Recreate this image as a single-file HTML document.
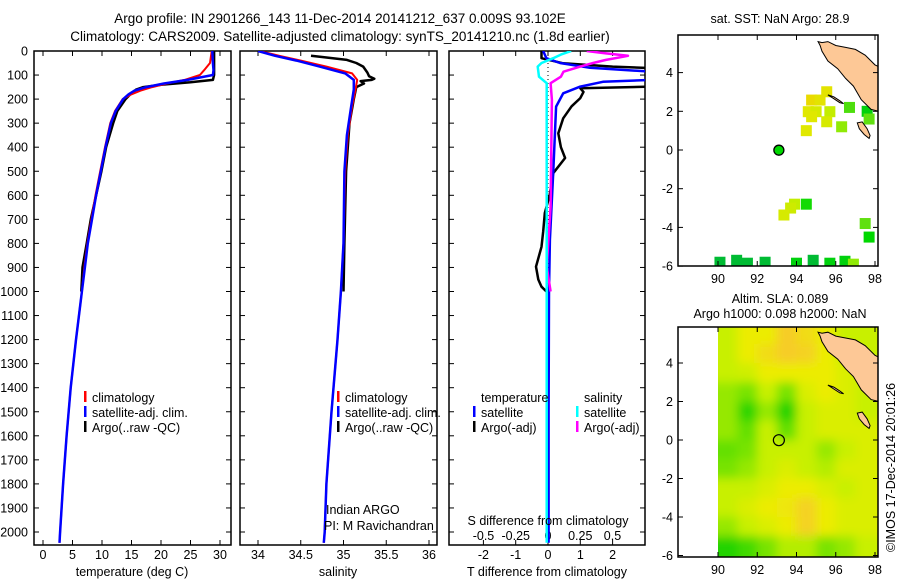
<!DOCTYPE html>
<html><head><meta charset="utf-8"><style>
html,body{margin:0;padding:0;background:#fff;}
svg{display:block;font-family:"Liberation Sans",sans-serif;}
text{font-size:12.5px;fill:#000;}
</style></head><body>
<svg id="fig" width="900" height="580" viewBox="0 0 900 580" xmlns="http://www.w3.org/2000/svg">
<defs>
<clipPath id="c1"><rect x="34" y="51" width="197" height="494"/></clipPath>
<clipPath id="c2"><rect x="240" y="51" width="197" height="494"/></clipPath>
<clipPath id="c3"><rect x="449" y="51" width="196" height="494"/></clipPath>
<clipPath id="cm1"><rect x="678" y="35" width="200" height="231"/></clipPath>
<clipPath id="cm2"><rect x="718" y="327" width="160" height="230"/></clipPath>
<filter id="blur" x="-10%" y="-10%" width="120%" height="120%"><feGaussianBlur stdDeviation="5"/></filter>
</defs>
<text x="340" y="23" text-anchor="middle" style="font-size:13.5px">Argo profile: IN 2901266_143 11-Dec-2014 20141212_637 0.009S 93.102E</text>
<text x="340" y="41" text-anchor="middle" style="font-size:13.5px">Climatology: CARS2009. Satellite-adjusted climatology: synTS_20141210.nc (1.8d earlier)</text>
<g id="g1"></g>
<g id="g2"></g>
<g id="g3"></g>
<g id="gm1"></g>
<g id="gm2"></g>
<text x="780" y="23" text-anchor="middle">sat. SST: NaN Argo: 28.9</text>
<text x="780" y="303" text-anchor="middle">Altim. SLA: 0.089</text>
<text x="780" y="318" text-anchor="middle">Argo h1000: 0.098 h2000: NaN</text>
<text transform="translate(895,552) rotate(-90)">©IMOS 17-Dec-2014 20:01:26</text>
</svg>
<script>
// ---- profile data ----
const depthClimT = [0,50,80,100,120,135,150,165,180,200,250,300,400,500,600,700,800,900,1000,1200,1400,1600,1800,2000,2045];
const climT = [28.6,28.3,27.3,26.6,24,21,18.5,16.5,15,13.5,12.2,11.4,10.5,9.7,8.9,8.2,7.5,7.0,6.6,5.6,4.7,4.0,3.4,2.9,2.8];
const satT = [28.7,28.8,28.9,28.8,24.5,20.5,17.5,15.5,14.5,13.6,12.3,11.5,10.6,9.8,9.0,8.3,7.6,7.1,6.6,5.6,4.7,4.0,3.4,2.9,2.8];
const depthArgoT = [0,50,100,120,130,140,150,160,180,200,250,300,400,500,600,700,800,900,1000];
const argoT = [29,29,29,28.8,25,20,17,15.8,14.8,14.0,12.6,11.9,10.7,9.9,9.0,8.1,7.4,6.7,6.5];
const depthClimS = [0,20,40,65,93,120,160,230,350,500,800,1000,1200,1500,1800,2000,2045];
const climS = [34.02,34.25,34.5,34.8,35.1,35.16,35.14,35.1,35.05,35.02,35.0,34.97,34.93,34.86,34.8,34.78,34.77];
const satS = [34.0,34.2,34.45,34.72,35.02,35.12,35.12,35.09,35.04,35.01,35.0,34.97,34.93,34.86,34.8,34.78,34.77];
const depthArgoS = [20,25,37,50,65,90,105,115,120,125,135,150,200,300,500,800,1000];
const argoS = [34.62,34.75,35.04,35.15,35.23,35.28,35.3,35.36,35.33,35.2,35.24,35.15,35.12,35.07,35.03,35.01,35.0];
const depthArgoTd = [0,30,51,65,71,100,130,148,155,170,196,230,280,342,400,445,508,600,674,750,814,897,950,980,1000];
const argoTd = [-0.2,-0.2,0.47,2,3.2,3.2,3.2,3.2,1.0,1.1,1.0,0.73,0.47,0.32,0.4,0.53,0.16,0.05,-0.1,-0.15,-0.2,-0.37,-0.3,-0.2,-0.05];
const depthSatTd = [0,30,50,70,86,100,120,128,148,176,231,508,786,1000,1500,2045];
const satTd = [-0.15,-0.05,0.37,1.3,3.2,3.2,3.2,1.7,1.0,0.47,0.25,0.16,0.06,0.03,0.02,0.02];
const depthSatSd = [0,15,30,50,65,107,134,300,1000,2045];
const satSd = [0.18,0.1,0.04,-0.05,-0.08,-0.07,-0.01,-0.01,-0.01,-0.01];
const depthArgoSd = [0,10,20,24,37,50,65,86,107,134,203,647,897,1000];
const argoSd = [0.3,0.45,0.62,0.58,0.45,0.35,0.25,0.12,0.1,0.02,0.03,0.02,-0.01,0.02];
const depthTicks = [0,100,200,300,400,500,600,700,800,900,1000,1100,1200,1300,1400,1500,1600,1700,1800,1900,2000];
const tTicks = [0,5,10,15,20,25,30];
const sTicks = [34,34.5,35,35.5,36];
const sTickLabels = ["34","34.5","35","35.5","36"];
const tdTicks = [-2,-1,0,1,2];
const sdTicks = [-0.5,-0.25,0,0.25,0.5];
const sdTickLabels = ["-0.5","-0.25","0","0.25","0.5"];
// ---- map data ----
const sstLon = [95.54,94.77,95.2,94.6,95.0,95.7,94.77,95.54,96.3,94.5,96.7,97.6,97.7,93.9,94.5,93.7,93.36,97.5,97.7,90.1,90.95,91.5,92.4,94.0,94.85,95.7,96.47,96.9];
const sstLat = [3.01,2.58,2.58,1.98,1.98,1.98,1.72,1.46,1.2,1.0,2.2,2.0,1.6,-2.8,-2.8,-3.0,-3.36,-3.8,-4.5,-5.8,-5.7,-5.85,-5.8,-5.85,-5.7,-5.85,-5.75,-5.9];
const sstVal = [28.6,28.8,28.6,28.5,28.4,28.2,28.5,28.4,27.8,28.5,27.4,26.9,27.5,28.2,27.1,28.3,28.4,27.5,27.0,26.6,26.6,26.6,26.6,26.9,26.6,26.9,26.9,27.8];
const argoLon = 93.102, argoLat = -0.009, argoSST = 27.0;
const slaLats = [5.5,4.5,3.5,2.5,1.5,0.5,-0.5,-1.5,-2.5,-3.5,-4.5,-5.5];
const slaLons = [90.5,91.5,92.5,93.5,94.5,95.5,96.5,97.5];
const slaGrid = [
[2,3,3,4,3.5,3,2,2],[2,3,3.5,4,3.8,3,2,2],[2,2.2,3,3,3,3,2.5,2],[1.5,1.2,2,1.2,2.5,3,2.5,2],
[1.5,0.3,1.5,0.2,2,2.5,2.5,2],[1.5,1,2,1,2,2.5,2.5,2.5],[1,1.2,2,2,2,1.5,2,2.5],[1.2,1.5,2,2.5,2,1.8,2.5,2.5],
[2,2,2.5,3,3,2.5,2,2.5],[2,2.5,3,3.2,3.8,3,2.5,2.5],[1.5,2,2.5,3,3.8,3,2.5,2.5],[0.2,0.6,1.2,1.8,1.8,1.2,1.5,2]];
const landLon = [95.1,95.3,95.6,96.0,96.5,97.0,97.5,98.0,98.2,98.2,97.8,97.3,96.9,96.5,96.1,95.6,95.3,95.2];
const landLat = [5.6,5.55,5.6,5.4,5.3,5.2,4.9,4.4,4.3,2.0,2.1,2.6,3.3,3.7,4.2,4.6,5.1,5.4];
const niasLon = [97.1,97.35,97.6,97.75,97.7,97.45,97.2];
const niasLat = [1.4,1.45,1.1,0.75,0.6,0.8,1.1];
const simLon = [95.6,95.9,96.2,96.4,96.2,95.9];
const simLat = [2.85,2.75,2.55,2.4,2.45,2.65];

const NS='http://www.w3.org/2000/svg';
function mk(parent,tag,attrs){const e=document.createElementNS(NS,tag);for(const k in attrs)e.setAttribute(k,attrs[k]);parent.appendChild(e);return e;}
const top0=51, bot=545;
const yD = d => 51 + d*0.2405;
const xT = t => 43 + t*5.9;
const xS = s => 258 + (s-34)*85.5;
const xTd = t => 548 + t*32.3;
const xSd = s => 548 + s*129;

function frame(g,x0,x1,name){
  const r=mk(g,'rect',{x:x0,y:top0,width:x1-x0,height:bot-top0,fill:'none',stroke:'#000','stroke-width':1.5});
  
  
  depthTicks.forEach(d=>{
    const y=yD(d);
    mk(g,'line',{x1:x0,x2:x0+5,y1:y,y2:y,stroke:'#000'});
    mk(g,'line',{x1:x1,x2:x1-5,y1:y,y2:y,stroke:'#000'});
  });
}
function xticks(g,ticks,labels,fx,ylab){
  ticks.forEach((t,i)=>{
    const x=fx(t);
    mk(g,'line',{x1:x,x2:x,y1:top0,y2:top0+5,stroke:'#000'});
    mk(g,'line',{x1:x,x2:x,y1:bot,y2:bot-5,stroke:'#000'});
    if(ylab){const tx=mk(g,'text',{x:x,y:ylab,'text-anchor':'middle'});tx.textContent=labels[i];
      
      }
  });
}
function line(g,xs,ds,fx,color,w,clip,name){
  const pts=xs.map((v,i)=>fx(v).toFixed(1)+','+yD(ds[i]).toFixed(1)).join(' ');
  const p=mk(g,'polyline',{points:pts,fill:'none',stroke:color,'stroke-width':w,'clip-path':'url(#'+clip+')','stroke-linejoin':'round'});
  
  
}
function legend(g,x,y,color,label,name){
  mk(g,'rect',{x:x,y:y-11,width:2.5,height:11,fill:color});
  const t=mk(g,'text',{x:x+8,y:y});t.textContent=label;
  
  
}
// panel 1
const g1=document.getElementById('g1');
frame(g1,34,231,'temperature');
depthTicks.forEach(d=>{const t=mk(g1,'text',{x:28,y:yD(d)+4.5,'text-anchor':'end'});t.textContent=d;
  
  });
xticks(g1,tTicks,tTicks.map(String),xT,559);
line(g1,argoT,depthArgoT,xT,'#000',2.5,'c1','argo-temperature-line');
line(g1,climT,depthClimT,xT,'#f00',2,'c1','climatology-temperature-line');
line(g1,satT,depthClimT,xT,'#00f',2.5,'c1','satellite-temperature-line');
legend(g1,84,402,'#f00','climatology','legend-climatology');
legend(g1,84,417,'#00f','satellite-adj. clim.','legend-satellite');
legend(g1,84,432,'#000','Argo(..raw -QC)','legend-argo');
{const t=mk(g1,'text',{x:132,y:576,'text-anchor':'middle'});t.textContent='temperature (deg C)';

}
// panel 2
const g2=document.getElementById('g2');
frame(g2,240,437,'salinity');
xticks(g2,sTicks,sTickLabels,xS,559);
line(g2,argoS,depthArgoS,xS,'#000',2.5,'c2','argo-salinity-line');
line(g2,climS,depthClimS,xS,'#f00',2,'c2','climatology-salinity-line');
line(g2,satS,depthClimS,xS,'#00f',2.5,'c2','satellite-salinity-line');
legend(g2,337,402,'#f00','climatology','legend-climatology-s');
legend(g2,337,417,'#00f','satellite-adj. clim.','legend-satellite-s');
legend(g2,337,432,'#000','Argo(..raw -QC)','legend-argo-s');
{let t=mk(g2,'text',{x:326,y:514});t.textContent='Indian ARGO';


t=mk(g2,'text',{x:324,y:530});t.textContent='PI: M Ravichandran';


t=mk(g2,'text',{x:338,y:576,'text-anchor':'middle'});t.textContent='salinity';

}
// panel 3
const g3=document.getElementById('g3');
frame(g3,449,645,'difference');
xticks(g3,tdTicks,tdTicks.map(String),xTd,559);
sdTicks.forEach((s,i)=>{const t=mk(g3,'text',{x:xSd(s),y:540,'text-anchor':'middle'});t.textContent=sdTickLabels[i];
  
  });
mk(g3,'line',{x1:548,x2:548,y1:51,y2:yD(1000),stroke:'#000','stroke-dasharray':'1,3'});
line(g3,argoTd,depthArgoTd,xTd,'#000',2.5,'c3','argo-t-diff-line');
line(g3,satTd,depthSatTd,xTd,'#00f',2.5,'c3','satellite-t-diff-line');
line(g3,argoSd,depthArgoSd,xSd,'#f0f',2.5,'c3','argo-s-diff-line');
line(g3,satSd,depthSatSd,xSd,'#0ff',2.5,'c3','satellite-s-diff-line');
{let t=mk(g3,'text',{x:481,y:402});t.textContent='temperature';


t=mk(g3,'text',{x:584,y:402});t.textContent='salinity';

}
legend(g3,473,417,'#00f','satellite','legend-t-satellite');
legend(g3,473,432,'#000','Argo(-adj)','legend-t-argo');
legend(g3,576,417,'#0ff','satellite','legend-s-satellite');
legend(g3,576,432,'#f0f','Argo(-adj)','legend-s-argo');
{let t=mk(g3,'text',{x:548,y:525,'text-anchor':'middle'});t.textContent='S difference from climatology';


t=mk(g3,'text',{x:547,y:576,'text-anchor':'middle'});t.textContent='T difference from climatology';

}

// maps
const mxL = lon => 718 + (lon-90)*19.625;
function drawMapFrame(g,y0,y1,latY,name){
  const latT=[4,2,0,-2,-4,-6], lonT=[90,92,94,96,98];
  latT.forEach(l=>{const y=latY(l);
    mk(g,'line',{x1:678,x2:683,y1:y,y2:y,stroke:'#000'});mk(g,'line',{x1:878,x2:873,y1:y,y2:y,stroke:'#000'});
    const t=mk(g,'text',{x:673,y:y+4.5,'text-anchor':'end'});t.textContent=l;
    
    });
  lonT.forEach(l=>{const x=mxL(l);
    mk(g,'line',{x1:x,x2:x,y1:y0,y2:y0+5,stroke:'#000'});mk(g,'line',{x1:x,x2:x,y1:y1,y2:y1-5,stroke:'#000'});
    const t=mk(g,'text',{x:x,y:y1+17,'text-anchor':'middle'});t.textContent=l;
    
    });
  const r=mk(g,'rect',{x:678,y:y0,width:200,height:y1-y0,fill:'none',stroke:'#000','stroke-width':1.5});
  
  
}
function land(g,latY,clip){
  [[landLon,landLat],[niasLon,niasLat],[simLon,simLat]].forEach((pp,k)=>{
    const pts=pp[0].map((lo,i)=>mxL(lo).toFixed(1)+','+latY(pp[1][i]).toFixed(1)).join(' ');
    const p=mk(g,'polygon',{points:pts,fill:'#fdc896',stroke:'#000','stroke-width':1,'clip-path':'url(#'+clip+')'});
    
    
  });
}
function sstColor(v){
  const stops=[[26.5,[0,180,64]],[27,[0,216,0]],[27.5,[96,224,16]],[28,[176,240,0]],[28.5,[224,232,0]],[29,[240,208,0]]];
  v=Math.max(26.5,Math.min(29,v));
  for(let i=0;i<stops.length-1;i++){if(v<=stops[i+1][0]){const f=(v-stops[i][0])/(stops[i+1][0]-stops[i][0]);
    const c=stops[i][1].map((a,j)=>Math.round(a+(stops[i+1][1][j]-a)*f));return 'rgb('+c.join(',')+')';}}
  return 'rgb(240,208,0)';
}
const gm1=document.getElementById('gm1');
const latY1 = l => 150 - l*19.35;
sstLon.forEach((lo,i)=>{
  const r=mk(gm1,'rect',{x:mxL(lo)-5.5,y:latY1(sstLat[i])-5.5,width:11,height:11,fill:sstColor(sstVal[i]),'clip-path':'url(#cm1)'});
  
  
});
land(gm1,latY1,'cm1');
{const c=mk(gm1,'circle',{cx:mxL(argoLon),cy:latY1(argoLat),r:5,fill:sstColor(argoSST),stroke:'#000','stroke-width':1.3});

}
drawMapFrame(gm1,35,266,latY1,'sst-map');

const gm2=document.getElementById('gm2');
const latY2 = l => 440 - l*19.25;
function slaColor(v){
  const stops=[[0,[16,208,0]],[1,[100,224,0]],[2,[200,240,0]],[3,[236,236,0]],[4,[246,204,40]]];
  for(let i=0;i<stops.length-1;i++){if(v<=stops[i+1][0]){const f=(v-stops[i][0])/(stops[i+1][0]-stops[i][0]);
    const c=stops[i][1].map((a,j)=>Math.round(a+(stops[i+1][1][j]-a)*f));return 'rgb('+c.join(',')+')';}}
  return 'rgb(246,204,40)';
}
const clipG=mk(gm2,'g',{'clip-path':'url(#cm2)'});
mk(clipG,'rect',{x:718,y:327,width:160,height:230,fill:slaColor(2)});
const blurG=mk(clipG,'g',{filter:'url(#blur)'});
slaLats.forEach((la,r)=>slaLons.forEach((lo,c)=>{
  const v=slaGrid[r][c];
  const x0=mxL(lo-0.5), x1=mxL(lo+0.5)+(c===slaLons.length-1?12:0);
  const y0=latY2(la+0.5)-(r===0?10:0), y1=latY2(la-0.5)+(r===slaLats.length-1?10:0);
  const e=mk(blurG,'rect',{x:(c===0?x0-12:x0),y:y0,width:x1-x0+(c===0?12:0)+0.5,height:y1-y0+0.5,fill:slaColor(v)});
  
  
}));
land(gm2,latY2,'cm2');
{const c=mk(gm2,'circle',{cx:mxL(argoLon),cy:latY2(argoLat),r:5.5,fill:'none',stroke:'#000','stroke-width':1.2});

}
drawMapFrame(gm2,327,557,latY2,'sla-map');
</script>
</body></html>
